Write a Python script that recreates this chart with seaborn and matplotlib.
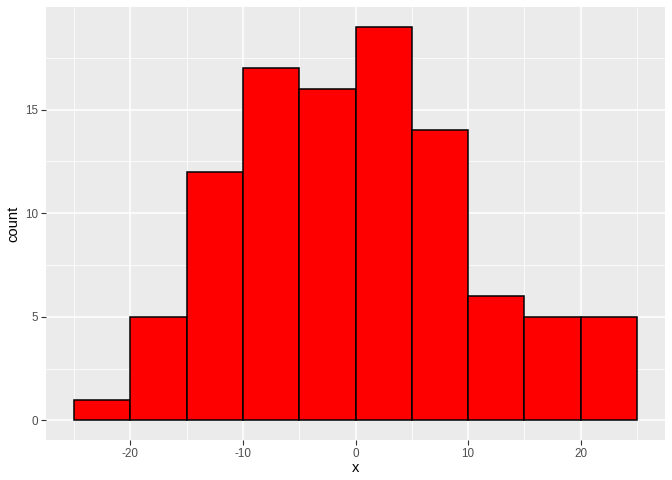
import numpy as np
import pandas as pd
import matplotlib
matplotlib.use("Agg")
import matplotlib.pyplot as plt
import seaborn as sns

# Data
bin_edges = [-25, -20, -15, -10, -5, 0, 5, 10, 15, 20, 25]
bin_centers = [-22.5, -17.5, -12.5, -7.5, -2.5, 2.5, 7.5, 12.5, 17.5, 22.5]
counts = [1, 5, 12, 17, 16, 19, 14, 6, 5, 5]
x_ticks = [-20, -10, 0, 10, 20]
y_ticks = [0, 5, 10, 15]

df = pd.DataFrame({"x": bin_centers, "count": counts})

sns.set_theme(style="darkgrid")
plt.rcParams["font.family"] = ["Liberation Sans", "DejaVu Sans"]

fig = plt.figure(figsize=(6.72, 4.8), dpi=100)
ax = fig.add_axes([46/672, 40/480, (665-46)/672, (440-7)/480])
ax.set_facecolor("#EBEBEB")

sns.histplot(data=df, x="x", weights="count", bins=bin_edges,
             color="red", edgecolor="black", linewidth=1.1, alpha=1, ax=ax)

ax.set_xlim(-27.5, 27.5)
ax.set_ylim(-0.95, 19.95)
ax.set_xticks(x_ticks)
ax.set_xticklabels([str(t) for t in x_ticks])
ax.set_yticks(y_ticks)
ax.set_yticklabels([str(t) for t in y_ticks])
ax.set_xticks([-25, -15, -5, 5, 15, 25], minor=True)
ax.set_yticks([2.5, 7.5, 12.5, 17.5], minor=True)
ax.grid(which="major", color="white", linewidth=1.1)
ax.grid(which="minor", color="white", linewidth=0.55)
ax.set_axisbelow(True)
for s in ax.spines.values():
    s.set_visible(False)
ax.tick_params(axis="both", which="major", length=3.6, width=0.8, color="#333333",
               labelsize=8.4, labelcolor="#4D4D4D", pad=2.2, direction="out")
ax.tick_params(axis="both", which="minor", length=0)
ax.tick_params(axis="x", bottom=True)
ax.tick_params(axis="y", left=True)
ax.set_xlabel("x", fontsize=10.6, color="black", labelpad=0.5)
ax.set_ylabel("count", fontsize=10.6, color="black", labelpad=3.5)

fig.savefig("out.png", dpi=100)
